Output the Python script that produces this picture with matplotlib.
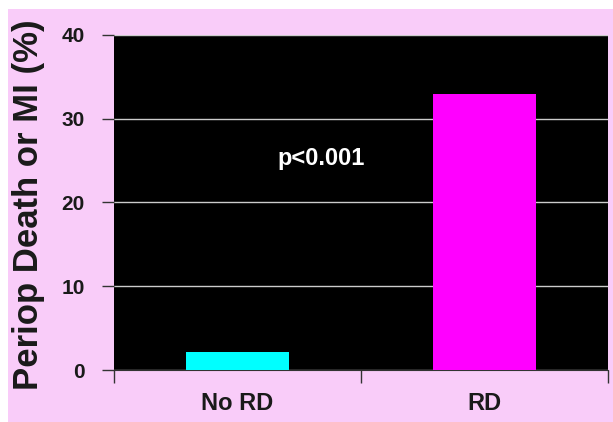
import matplotlib
matplotlib.use('Agg')
import matplotlib.pyplot as plt
from matplotlib.patches import Rectangle

plt.rcParams['font.family'] = ['Liberation Sans', 'DejaVu Sans']
plt.rcParams['font.weight'] = 'bold'

# outcome by group
groups = ['No RD', 'RD']
event_rates = [2.2, 33.0]
bar_colors = ['#00FFFF', '#FF00FF']
y_ticks = [0, 10, 20, 30, 40]
p_label = 'p<0.001'

pink = '#F9CCF9'
ink = '#1A1A1A'

fig = plt.figure(figsize=(6.13, 4.22), dpi=100, facecolor='white')
# pink panel with thin white margin at top and left
fig.patches.append(Rectangle((8 / 613, 0), 1, 1 - 9 / 422, transform=fig.transFigure,
                             facecolor=pink, edgecolor='none', zorder=-1))

ax = fig.add_axes([114 / 613, 52 / 422, 494 / 613, 335 / 422])
ax.set_facecolor('black')

x = list(range(len(groups)))
ax.bar(x, event_rates, width=0.42, color=bar_colors, zorder=3)

ax.set_xlim(-0.5, len(groups) - 0.5)
ax.set_ylim(0, 40)
ax.set_yticks(y_ticks)
ax.set_yticklabels([str(t) for t in y_ticks], fontsize=15, fontweight='bold', color=ink)
ax.yaxis.grid(True, color='#CCCCCC', linewidth=1.0, zorder=1)

# category labels centred, tick marks on group boundaries
ax.set_xticks(x)
ax.set_xticklabels(groups, fontsize=17, fontweight='bold', color=ink)
ax.tick_params(axis='x', length=0, pad=16)
ax.set_xticks([-0.5, 0.5, 1.5], minor=True)
ax.tick_params(axis='x', which='minor', length=9, width=1, color='#333333')
ax.tick_params(axis='y', length=9, width=1, color='#333333', pad=12)

for side in ['top', 'right', 'left']:
    ax.spines[side].set_visible(False)
ax.spines['bottom'].set_color('#333333')

fig.text(12 / 613, 1 - 205 / 422, 'Periop Death or MI (%)', rotation=90,
         fontsize=25, fontweight='bold', color=ink, ha='left', va='center')

ax.text(0.34, 25.3, p_label, color='white', fontsize=17, fontweight='bold',
        ha='center', va='center')

fig.savefig('out.png', dpi=100, facecolor=fig.get_facecolor())
